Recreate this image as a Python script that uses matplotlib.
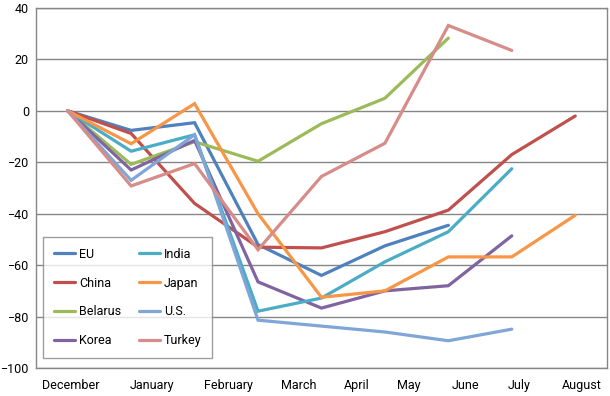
import matplotlib
matplotlib.use("Agg")
import matplotlib.pyplot as plt
import matplotlib.ticker as ticker
import numpy as np

months = ["December", "January", "February", "March", "April",
          "May", "June", "July", "August"]

eu = [0, -7.6, -4.6, -52, -64, -52.5, -44.5]
china = [0, -8.8, -36, -53, -53.3, -47, -38.6, -17, -2]
belarus = [0, -20.8, -12, -19.6, -5, 4.9, 28.3]
korea = [0, -23, -11.5, -66.5, -76.7, -70, -68, -48.6]
india = [0, -15.7, -9.3, -77.9, -72.8, -58.7, -47, -22.5]
japan = [0, -12.8, 2.8, -40, -72.5, -70, -56.8, -56.8, -40.6]
us = [0, -27, -9.3, -81.4, -83.7, -86, -89.4, -84.9]
turkey = [0, -29.2, -20.5, -54, -25.5, -12.6, 33.2, 23.5]

series = [
    ("EU", eu, "#4F81BD"),
    ("China", china, "#C0504D"),
    ("Belarus", belarus, "#9BBB59"),
    ("Korea", korea, "#8064A2"),
    ("India", india, "#4BACC6"),
    ("Japan", japan, "#F79646"),
    ("U.S.", us, "#7FA6D6"),
    ("Turkey", turkey, "#D68C88"),
]

# month labels in the source are spread evenly as text, not centred on points
label_pos = [0.05, 1.32, 2.54, 3.64, 4.55, 5.38, 6.27, 7.12, 8.1]

plt.rcParams["font.family"] = ["Roboto", "DejaVu Sans"]

fig = plt.figure(figsize=(6.1, 3.96), dpi=100)
ax = fig.add_axes([0.059, 0.0707, 0.936, 0.9091])

x = np.arange(len(months))
for name, vals, color in series:
    ax.plot(x[:len(vals)], vals, color=color, linewidth=2.3,
            label=name, solid_capstyle="round", solid_joinstyle="miter")

ax.set_xlim(-0.5, len(months) - 0.5)
ax.set_ylim(-100, 40)
ax.yaxis.set_major_locator(ticker.MultipleLocator(20))
ax.set_xticks(label_pos)
ax.set_xticklabels(months)
ax.tick_params(axis="both", length=0, labelsize=9, colors="black")
ax.tick_params(axis="x", pad=8)
ax.tick_params(axis="y", pad=5)

ax.grid(True, axis="y", color="#868686", linewidth=1.0)
ax.set_axisbelow(True)
for s in ax.spines.values():
    s.set_color("#868686")
    s.set_linewidth(1.0)

leg = ax.legend(ncol=2, loc="lower left", bbox_to_anchor=(0.013, 0.028),
                fontsize=9, frameon=True, fancybox=False,
                edgecolor="#868686", handlelength=1.7, handletextpad=0.3,
                columnspacing=1.4, labelspacing=1.27, borderpad=0.85,
                borderaxespad=0)
leg.get_frame().set_linewidth(1.0)

fig.savefig("out.png", dpi=100)
plt.close(fig)
